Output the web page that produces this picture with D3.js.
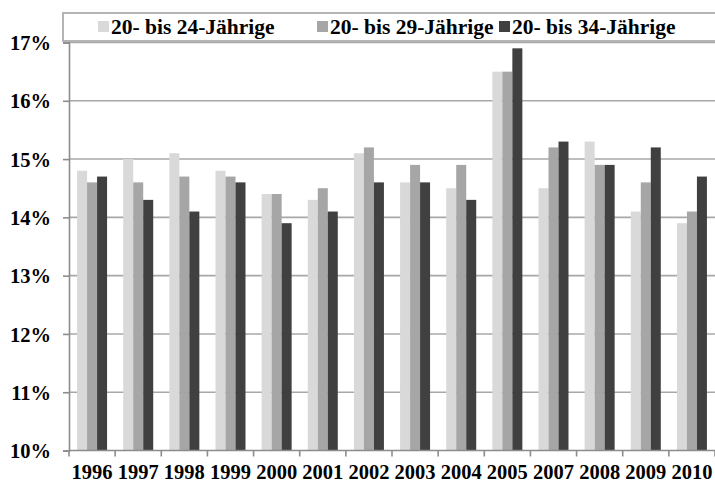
<!DOCTYPE html>
<html>
<head>
<meta charset="utf-8">
<script src="https://cdn.jsdelivr.net/npm/d3@7"></script>
<style>
  html, body { margin: 0; padding: 0; background: #fff; }
</style>
</head>
<body>
<svg id="chart" width="715" height="484"></svg>
<script>
// Anteil je Altersgruppe, 1996–2010 (in Prozent)
const years = ["1996","1997","1998","1999","2000","2001","2002","2003","2004","2005","2007","2008","2009","2010"];
const seriesNames = ["20- bis 24-Jährige", "20- bis 29-Jährige", "20- bis 34-Jährige"];
const seriesColors = ["#d9d9d9", "#a6a6a6", "#404040"];
const age20to24 = [14.8, 15.0, 15.1, 14.8, 14.4, 14.3, 15.1, 14.6, 14.5, 16.5, 14.5, 15.3, 14.1, 13.9];
const age20to29 = [14.6, 14.6, 14.7, 14.7, 14.4, 14.5, 15.2, 14.9, 14.9, 16.5, 15.2, 14.9, 14.6, 14.1];
const age20to34 = [14.7, 14.3, 14.1, 14.6, 13.9, 14.1, 14.6, 14.6, 14.3, 16.9, 15.3, 14.9, 15.2, 14.7];
const yTicks = [10, 11, 12, 13, 14, 15, 16, 17];

const seriesValues = [age20to24, age20to29, age20to34];
const FONT = "'Liberation Serif', 'Times New Roman', Times, serif";

const svg = d3.select("#chart");
const plotLeft = 69, plotRight = 715, plotTop = 42.5, plotBottom = 450.5;

const x = d3.scaleBand().domain(years).range([plotLeft, plotRight])
  .paddingInner(0.35).paddingOuter(0.175);
const xs = d3.scaleBand().domain(d3.range(seriesNames.length)).range([0, x.bandwidth()]).padding(0);
const y = d3.scaleLinear().domain([10, 17]).range([plotBottom, plotTop]);

function styleText(sel, size) {
  sel.style("font-family", FONT).style("font-weight", "bold").style("font-size", size + "px").style("fill", "#000");
}

// horizontal gridlines
svg.append("g").selectAll("line").data(yTicks.filter(t => t > 10)).join("line")
  .attr("x1", plotLeft).attr("x2", plotRight)
  .attr("y1", d => y(d)).attr("y2", d => y(d))
  .attr("stroke", "#a8a8a8").attr("stroke-width", 1.6);

// bars
const groups = svg.append("g").selectAll("g").data(years).join("g")
  .attr("transform", d => `translate(${x(d)},0)`);
groups.selectAll("rect")
  .data((yr, i) => seriesValues.map((vals, s) => ({ s, v: vals[i] })))
  .join("rect")
  .attr("x", d => xs(d.s))
  .attr("width", xs.bandwidth())
  .attr("y", d => y(d.v))
  .attr("height", d => y(10) - y(d.v))
  .attr("fill", d => seriesColors[d.s]);

// y axis
const yAxis = svg.append("g").attr("transform", `translate(${plotLeft},0)`)
  .call(d3.axisLeft(y).tickValues(yTicks).tickFormat(d => d + "%").tickSizeOuter(0).tickSize(6).tickPadding(12));
yAxis.attr("font-family", null).attr("font-size", null);
yAxis.select(".domain").attr("stroke", "#8c8c8c").attr("stroke-width", 1.6);
yAxis.selectAll(".tick line").attr("stroke", "#8c8c8c").attr("stroke-width", 1.6);
yAxis.selectAll(".tick text").attr("dy", "0.35em").call(styleText, 20.5);

// x axis: ticks at the category boundaries
const xAxisG = svg.append("g");
xAxisG.append("line").attr("x1", plotLeft).attr("x2", plotRight).attr("y1", plotBottom).attr("y2", plotBottom)
  .attr("stroke", "#8c8c8c").attr("stroke-width", 1.6);
const halfGap = (x.step() - x.bandwidth()) / 2;
const boundaries = years.map(d => x(d) - halfGap).concat([plotRight]);
xAxisG.selectAll("line.tick").data(boundaries).join("line")
  .attr("class", "tick")
  .attr("x1", d => d).attr("x2", d => d)
  .attr("y1", plotBottom).attr("y2", plotBottom + 6)
  .attr("stroke", "#8c8c8c").attr("stroke-width", 1.6);
xAxisG.selectAll("text").data(years).join("text")
  .attr("x", d => x(d) + x.bandwidth() / 2)
  .attr("y", 479)
  .attr("text-anchor", "middle")
  .attr("textLength", 41)
  .attr("lengthAdjust", "spacingAndGlyphs")
  .call(styleText, 22)
  .text(d => d);

// legend
const legend = svg.append("g");
legend.append("rect").attr("x", 63).attr("y", 13).attr("width", 660).attr("height", 28)
  .attr("fill", "#fff").attr("stroke", "#b4b4b4").attr("stroke-width", 2);
const legendX = [98, 317, 499];
const items = legend.selectAll("g").data(seriesNames).join("g")
  .attr("transform", (d, i) => `translate(${legendX[i]},0)`);
items.append("rect").attr("x", 0).attr("y", 21).attr("width", 11).attr("height", 11)
  .attr("fill", (d, i) => seriesColors[i]);
items.append("text").attr("x", 13).attr("y", 34).call(styleText, 21.5).text(d => d);
</script>
</body>
</html>
